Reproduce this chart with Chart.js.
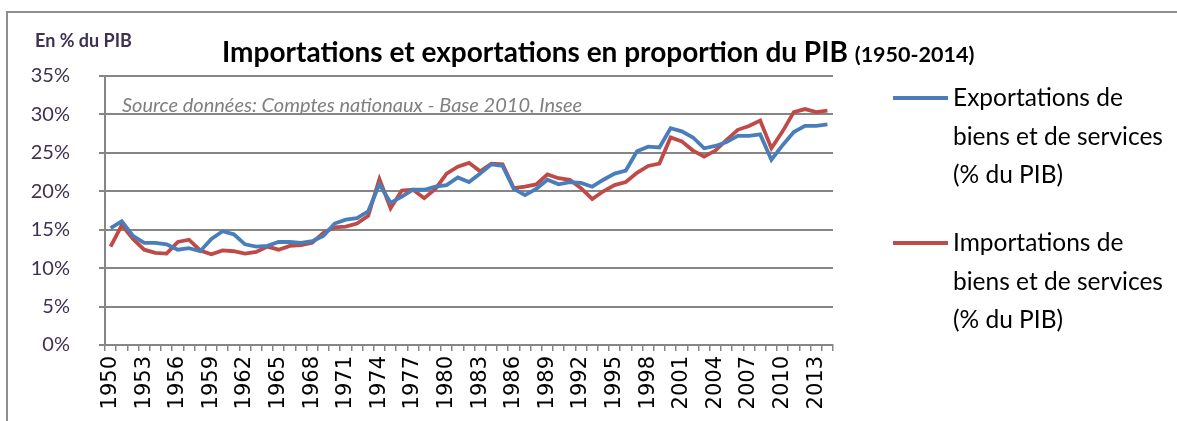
<!DOCTYPE html>
<html><head><meta charset="utf-8">
<script src="https://cdn.jsdelivr.net/npm/chart.js@4"></script>
<style>
body{margin:0;background:#fff;}
#wrap{position:relative;width:1177px;height:421px;overflow:hidden;background:#fff;}
#frame{position:absolute;left:6px;top:11px;width:1300px;height:500px;border-top:2px solid #8e8e8e;border-left:2px solid #8e8e8e;}
canvas{position:absolute;left:0;top:0;}
.t{position:absolute;white-space:nowrap;line-height:1;}
#ylab{left:35px;top:29px;font:bold 18px Lato;color:#3F3151;}
#title{left:222px;top:34px;font:bold 28px Lato;color:#000;}
#title span{font-size:21.5px;}
#src{left:122px;top:92px;font:italic 20px Lato;color:#7f7f7f;}
.leg{position:absolute;left:953px;font:24.5px Lato;color:#000;line-height:38.5px;white-space:nowrap;}
.sw{position:absolute;left:893px;width:55px;height:4px;}
</style></head>
<body><div id="wrap"><div id="frame"></div><canvas id="c" width="1177" height="421"></canvas>
<div class="t" id="ylab">En % du PIB</div>
<div class="t" id="title">Importations et exportations en proportion du PIB <span>(1950-2014)</span></div>
<div class="t" id="src">Source données: Comptes nationaux - Base 2010, Insee</div>
<div class="sw" style="top:96px;background:#4A7EBB"></div>
<div class="leg" style="top:78px">Exportations de<br>biens et de services<br>(% du PIB)</div>
<div class="sw" style="top:241px;background:#BE4B48"></div>
<div class="leg" style="top:223px">Importations de<br>biens et de services<br>(% du PIB)</div>
</div>
<script>
const years = [];
for (let y = 1950; y <= 2014; y++) years.push(String(y));
const exportations = [15.2,16.1,14.2,13.3,13.3,13.1,12.4,12.6,12.2,13.8,14.8,14.4,13.1,12.8,12.9,13.4,13.4,13.3,13.5,14.2,15.8,16.3,16.5,17.4,20.9,18.5,19.3,20.2,20.2,20.6,20.8,21.8,21.2,22.3,23.5,23.3,20.3,19.5,20.3,21.5,20.9,21.2,21.1,20.6,21.5,22.3,22.7,25.2,25.8,25.7,28.2,27.8,27.0,25.6,25.9,26.4,27.2,27.2,27.4,24.1,26.0,27.7,28.5,28.5,28.7];
const importations = [12.8,15.6,13.8,12.4,12.0,11.9,13.4,13.7,12.3,11.8,12.3,12.2,11.9,12.1,12.8,12.4,12.9,13.0,13.3,14.6,15.3,15.4,15.8,16.8,21.6,17.8,20.1,20.2,19.1,20.3,22.3,23.2,23.7,22.6,23.6,23.5,20.4,20.6,20.9,22.2,21.7,21.5,20.4,19.0,20.0,20.8,21.2,22.4,23.3,23.6,27.0,26.5,25.3,24.5,25.3,26.7,28.0,28.5,29.2,25.6,27.8,30.3,30.7,30.3,30.5];
const yTickValues = [0,5,10,15,20,25,30,35];
const seriesNames = ["Exportations de biens et de services (% du PIB)","Importations de biens et de services (% du PIB)"];

new Chart(document.getElementById('c').getContext('2d'), {
  type: 'line',
  data: {
    labels: years,
    datasets: [
      {label: seriesNames[0], data: exportations, borderColor: '#4A7EBB', borderWidth: 3.8, pointRadius: 0, tension: 0, fill: false},
      {label: seriesNames[1], data: importations, borderColor: '#BE4B48', borderWidth: 3.8, pointRadius: 0, tension: 0, fill: false}
    ]
  },
  options: {
    responsive: false, animation: false, devicePixelRatio: 1,
    layout: {padding: {left: 0, top: 76, right: 344, bottom: 0}},
    plugins: {legend: {display: false}, title: {display: false}, tooltip: {enabled: false}},
    scales: {
      x: {
        offset: true,
        grid: {offset: true, drawOnChartArea: false, tickLength: 6, color: '#868686', lineWidth: 1.5},
        border: {color: '#868686', width: 2},
        ticks: {autoSkip: false, maxRotation: 90, minRotation: 90, padding: 5, color: '#000',
          font: {family: 'DejaVu Sans', size: 21},
          callback: function(v, i) { return i % 3 === 0 ? years[i] : ''; }},
        afterFit: s => { s.height = 76; }
      },
      y: {
        min: 0, max: 35,
        afterBuildTicks: s => { s.ticks = yTickValues.map(v => ({value: v})); },
        ticks: {callback: v => v + '%', padding: 29, color: '#3F3151', font: {family: 'Lato', size: 20}},
        grid: {color: '#868686', lineWidth: 2, tickLength: 6},
        border: {color: '#868686', width: 2},
        afterFit: s => { s.width = 105; }
      }
    }
  }
});
</script>
</body></html>
